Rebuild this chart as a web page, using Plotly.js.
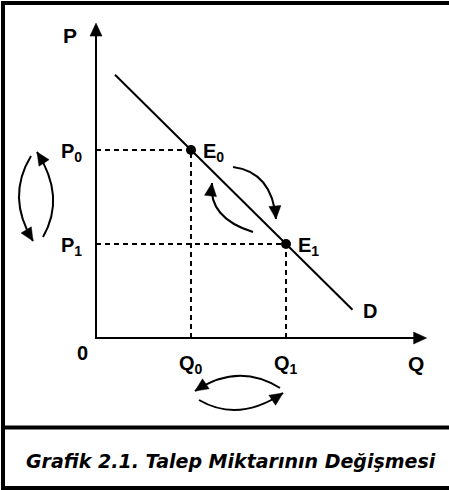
<!DOCTYPE html>
<html><head><meta charset="utf-8">
<script src="https://cdn.plot.ly/plotly-3.0.1.min.js"></script>
<style>html,body{margin:0;padding:0;background:#fff}</style>
</head><body><div id="chart" style="width:449px;height:490px"></div>
<script>
// ---- data (quantity Q, price P in chart units) ----
const demandQ = [0.2, 2.7];
const demandP = [2.8, 0.3];          // D : P = 3 - Q
const equilibriumQ = [1, 2];
const equilibriumP = [2, 1];
const equilibriumLabels = ['E<sub>0</sub>', 'E<sub>1</sub>'];
const quantityTickLabels = ['Q<sub>0</sub>', 'Q<sub>1</sub>'];
const priceTickLabels = ['P<sub>0</sub>', 'P<sub>1</sub>'];
const axisMaxQ = 3.48;
const axisMaxP = 3.35;
const captionText = 'Grafik 2.1. Talep Miktarının Değişmesi';

// ---- geometry helpers (figure pixel -> data units) ----
const W = 449, H = 490;
const ox = 96, oy = 338, sx = 95, sy = 94;
const X = px => (px - ox) / sx;
const Y = py => (oy - py) / sy;
const PX = q => ox + q * sx;
const PY = p => oy - p * sy;
const FONT = 'Liberation Sans, Arial, sans-serif';
const CAPFONT = 'DejaVu Sans, Liberation Sans, sans-serif';

const traces = [];
// demand line
traces.push({x: demandQ, y: demandP, mode: 'lines', line: {color: '#000', width: 2}, hoverinfo: 'skip'});
// dashed guides
for (let i = 0; i < 2; i++) {
  traces.push({x: [0, equilibriumQ[i]], y: [equilibriumP[i], equilibriumP[i]], mode: 'lines',
    line: {color: '#000', width: 2, dash: '5px,4px'}, hoverinfo: 'skip'});
  traces.push({x: [equilibriumQ[i], equilibriumQ[i]], y: [0, equilibriumP[i]], mode: 'lines',
    line: {color: '#000', width: 2, dash: '5px,4px'}, hoverinfo: 'skip'});
}
// axes
traces.push({x: [0, 0, axisMaxQ - 0.1], y: [axisMaxP - 0.1, 0, 0], mode: 'lines', line: {color: '#000', width: 2}, hoverinfo: 'skip'});
// equilibrium points
traces.push({x: equilibriumQ, y: equilibriumP, mode: 'markers', marker: {color: '#000', size: 10}, hoverinfo: 'skip'});

const shapes = [];
function tri(tx, ty, dx, dy, L, w) {
  const n = Math.hypot(dx, dy); dx /= n; dy /= n;
  const bx = tx - L * dx, by = ty - L * dy;
  const c1 = [bx - w * dy, by + w * dx], c2 = [bx + w * dy, by - w * dx];
  return 'M' + X(tx) + ',' + Y(ty) + ' L' + X(c1[0]) + ',' + Y(c1[1]) + ' L' + X(c2[0]) + ',' + Y(c2[1]) + ' Z';
}
function addTri(tx, ty, dx, dy, L, w) {
  shapes.push({type: 'path', xref: 'x', yref: 'y', path: tri(tx, ty, dx, dy, L, w),
    fillcolor: '#000', line: {color: '#000', width: 0.5}});
}
function curvedArrow(x0, y0, cx, cy, x1, y1) {
  shapes.push({type: 'path', xref: 'x', yref: 'y',
    path: 'M' + X(x0) + ',' + Y(y0) + ' Q' + X(cx) + ',' + Y(cy) + ' ' + X(x1) + ',' + Y(y1),
    line: {color: '#000', width: 2}});
  addTri(x1, y1, x1 - cx, y1 - cy, 13, 6);
}
// axis arrowheads
addTri(PX(0), PY(axisMaxP), 0, -1, 13, 6);
addTri(PX(axisMaxQ), PY(0), 1, 0, 13, 6);

// price change arrows (left)
const pMid = (PY(equilibriumP[0]) + PY(equilibriumP[1])) / 2;
curvedArrow(31, pMid - 41, 6, pMid, 33, pMid + 44);
curvedArrow(43, pMid + 40, 66, pMid, 37, pMid - 45);
// movement along demand curve
const ex0 = PX(equilibriumQ[0]), ey0 = PY(equilibriumP[0]);
curvedArrow(ex0 + 42, ey0 + 17, ex0 + 81, ey0 + 22, ex0 + 85, ey0 + 69);
curvedArrow(ex0 + 62, ey0 + 82, ex0 + 17, ey0 + 68, ex0 + 21, ey0 + 33);
// quantity change arrows (bottom)
const q0 = PX(equilibriumQ[0]), q1 = PX(equilibriumQ[1]);
const qm = (q0 + q1) / 2;
curvedArrow(q1 - 6, 388, qm, 362, q0 + 4, 391);
curvedArrow(q0 + 8, 400, qm, 423, q1 - 3, 393);

// frame
const pxp = v => v / W, pyp = v => 1 - v / H;
const frame = (x0, y0, x1, y1) => ({type: 'line', xref: 'paper', yref: 'paper',
  x0: pxp(x0), y0: pyp(y0), x1: pxp(x1), y1: pyp(y1), line: {color: '#000', width: 4}});
shapes.push(frame(1, 3, W, 3));
shapes.push(frame(3, 1, 3, H));
shapes.push(frame(1, 427.5, W, 427.5));
shapes.push(frame(1, 488, W, 488));

const ann = [];
const lab = (text, x, y, xanchor, size, extra) => ann.push(Object.assign({
  text: text, x: x, y: y, xref: 'x', yref: 'y', xanchor: xanchor, yanchor: 'middle',
  showarrow: false, font: {family: FONT, size: size, color: '#000', weight: 'bold'}}, extra || {}));
lab('P', X(61), Y(35), 'left', 21);
lab('Q', X(406), Y(363), 'left', 21);
lab('0', X(75), Y(353), 'left', 20);
for (let i = 0; i < 2; i++) {
  lab(priceTickLabels[i], X(59), equilibriumP[i], 'left', 20, {yshift: -2});
  lab(quantityTickLabels[i], equilibriumQ[i], Y(364), 'center', 20);
  lab(equilibriumLabels[i], equilibriumQ[i], equilibriumP[i], 'left', 20, {xshift: 10, yshift: -2});
}
lab('D', X(361), Y(311), 'left', 20);
ann.push({text: captionText, x: pxp(231.5), y: pyp(461), xref: 'paper', yref: 'paper',
  xanchor: 'center', yanchor: 'middle', showarrow: false,
  font: {family: CAPFONT, size: 19, color: '#000', weight: 'bold', style: 'italic'}});

const layout = {
  width: W, height: H, margin: {l: 0, r: 0, t: 0, b: 0, pad: 0},
  paper_bgcolor: '#fff', plot_bgcolor: '#fff', showlegend: false, hovermode: false, dragmode: false,
  xaxis: {range: [X(0), X(W)], visible: false, fixedrange: true},
  yaxis: {range: [Y(H), Y(0)], visible: false, fixedrange: true},
  shapes: shapes, annotations: ann
};
Plotly.newPlot('chart', traces, layout, {displayModeBar: false});
</script></body></html>
